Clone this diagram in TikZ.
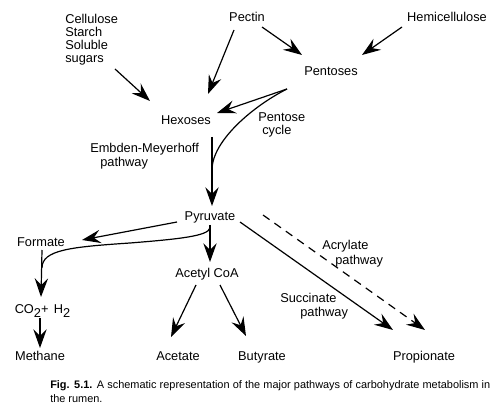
\documentclass[tikz,border=0pt]{standalone}
\usepackage{fontspec}
\setmainfont{Liberation Sans}
\usetikzlibrary{arrows.meta,calc}
\begin{document}
\begin{tikzpicture}[x=0.75pt,y=-0.75pt,
  lbl/.style={inner sep=0pt,font=\fontsize{9.6}{9.75}\selectfont},
  arr/.style={line width=0.9pt,-{Stealth[length=14pt,width=10pt,inset=5pt]}},
  ln/.style={line width=0.9pt}]
\useasboundingbox (0,0) rectangle (504,417);
% nodes
\node[lbl,anchor=north west,align=left] (cell) at (65,14) {Cellulose\\Starch\\Soluble\\sugars};
\node[lbl,anchor=base] (pectin) at (247,21.5) {Pectin};
\node[lbl,anchor=base] (hemi) at (447,21.5) {Hemicellulose};
\node[lbl,anchor=base] (pent) at (331,75.5) {Pentoses};
\node[lbl,anchor=base] (hex) at (186,124.5) {Hexoses};
\node[lbl,anchor=north west,align=left] (pcyc) at (258,112) {Pentose\\\hspace*{3pt}cycle};
\node[lbl,anchor=north west,align=left,font=\fontsize{9.6}{10.5}\selectfont] (emp) at (90,143) {Embden-Meyerhoff\\\hspace*{7.5pt}pathway};
\node[lbl,anchor=base] (pyr) at (210,220.5) {Pyruvate};
\node[lbl,anchor=base] (form) at (41,246.5) {Formate};
\node[lbl,anchor=base] (acoa) at (207,277.5) {Acetyl CoA};
\node[lbl,anchor=base] (co2) at (42.5,313.5) {CO\raisebox{-3.2pt}{2}+\hspace{4pt}H\raisebox{-3.2pt}{2}};
\node[lbl,anchor=base] (meth) at (40,360.5) {Methane};
\node[lbl,anchor=base] (acet) at (178,360.5) {Acetate};
\node[lbl,anchor=base] (but) at (262,360.5) {Butyrate};
\node[lbl,anchor=base] (prop) at (424,360.5) {Propionate};
\node[lbl,anchor=north west,align=left,font=\fontsize{9.6}{11.25}\selectfont] (acry) at (322,240) {Acrylate\\\hspace*{9.75pt}pathway};
\node[lbl,anchor=north west,align=left,font=\fontsize{9.6}{10.5}\selectfont] (succ) at (280,293) {Succinate\\\hspace*{15pt}pathway};
\node[inner sep=0pt,anchor=north west,text width=330pt,align=justify,font=\fontsize{8.2}{10.5}\selectfont] (cap) at (50,380)
 {\textbf{Fig. 5.1.} A schematic representation of the major pathways of carbohydrate metabolism in the rumen.};
% junction coordinates
\coordinate (j1) at ($(hex.base)+(26,45.5)$);
\coordinate (j2) at ($(form.base)+(1,21.5)$);
% connectors
\draw[arr] ($(cell.north west)+(50,55)$) -- ($(hex.base)+(-36,-23.5)$);
\draw[arr] ($(pectin.base)+(-13,8.5)$) -- ($(hex.base)+(22,-30.5)$);
\draw[arr] ($(pectin.base)+(15,5.5)$) -- ($(pent.base)+(-29,-20.5)$);
\draw[arr] ($(hemi.base)+(-45,5.5)$) -- ($(pent.base)+(31,-20.5)$);
\draw[arr] ($(pent.base)+(-44,13.5)$) -- ($(hex.base)+(31,-11.5)$);
\draw[ln] ($(pent.base)+(-44,13.5)$) .. controls ($(hex.base)+(69,-19.5)$) and ($(hex.base)+(26,15.5)$) .. (j1);
\draw[arr] ($(hex.base)+(26,12.5)$) -- ($(pyr.base)+(2,-14.5)$);
\draw[arr] ($(pyr.base)+(-33,1.5)$) -- ($(form.base)+(41,-6.5)$);
\draw[arr] ($(pyr.base)+(0,4.5)$) -- ($(acoa.base)+(3,-15.5)$);
\draw[ln] ($(pyr.base)+(0,7.5)$) .. controls ($(pyr.base)+(-2,15.5)$) and ($(pyr.base)+(-30,18.5)$) .. ($(pyr.base)+(-80,22.5)$)
  .. controls ($(form.base)+(29,0.5)$) and ($(form.base)+(1,3.5)$) .. (j2);
\draw[arr] ($(form.base)+(1,3.5)$) -- ($(co2.base)+(-1.5,-16.5)$);
\draw[arr] ($(co2.base)+(-2.5,4.5)$) -- ($(meth.base)+(0,-12.5)$);
\draw[arr] ($(acoa.base)+(-11,7.5)$) -- ($(acet.base)+(-7,-23.5)$);
\draw[arr] ($(acoa.base)+(13,7.5)$) -- ($(but.base)+(-16,-24.5)$);
\draw[arr] ($(pyr.base)+(30,1.5)$) -- ($(prop.base)+(-31,-30.5)$);
\draw[arr,dash pattern=on 6pt off 4.5pt] ($(pyr.base)+(53,-5.5)$) -- ($(prop.base)+(1,-30.5)$);
\end{tikzpicture}
\end{document}
